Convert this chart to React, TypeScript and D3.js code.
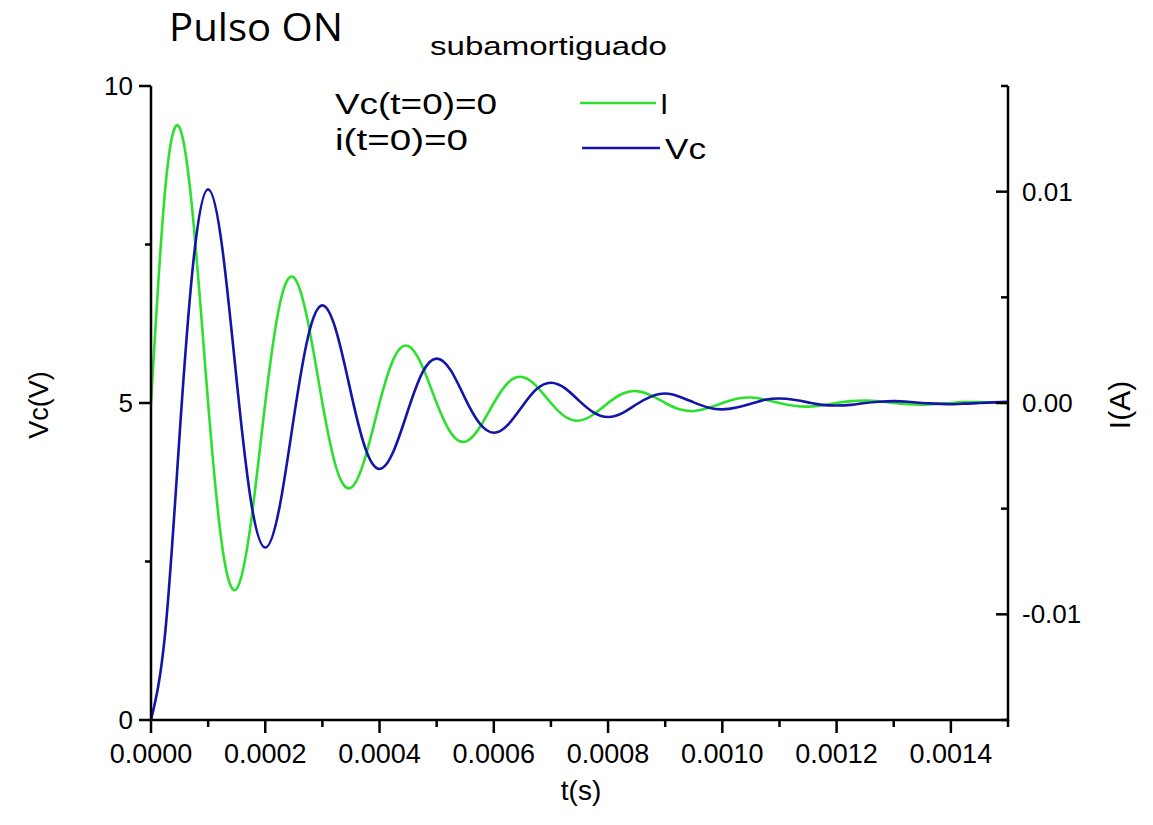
import React from "react";
import * as d3 from "d3";

// time samples (s)
const timeS: number[] = Array.from({ length: 61 }, (_, k) => +(k * 0.000025).toFixed(6));

// Current I (A), green, right axis (mA)
const currentMA: number[] = [
  0, 10.17, 13.03, 8.35, 0, -6.86, -8.79, -5.64,
  0, 4.63, 5.94, 3.8, 0, -3.13, -4.01, -2.57,
  0, 2.11, 2.7, 1.73, 0, -1.42, -1.83, -1.17,
  0, 0.96, 1.23, 0.79, 0, -0.65, -0.83, -0.53,
  0, 0.44, 0.56, 0.36, 0, -0.3, -0.38, -0.24,
  0, 0.2, 0.26, 0.16, 0, -0.13, -0.17, -0.11,
  0, 0.09, 0.12, 0.08, 0, -0.06, -0.08, -0.05,
  0, 0.04, 0.05, 0.03, 0,
];

// Capacitor voltage Vc (V), blue, left axis
const vcV: number[] = [
  0, 1.39, 4.49, 7.3, 8.37, 7.43, 5.35, 3.45,
  2.72, 3.36, 4.77, 6.05, 6.54, 6.11, 5.16, 4.29,
  3.96, 4.25, 4.89, 5.48, 5.7, 5.51, 5.07, 4.68,
  4.53, 4.66, 4.95, 5.22, 5.32, 5.23, 5.03, 4.85,
  4.78, 4.84, 4.98, 5.1, 5.15, 5.1, 5.01, 4.93,
  4.9, 4.93, 4.99, 5.05, 5.07, 5.05, 5.01, 4.97,
  4.96, 4.97, 5.0, 5.02, 5.03, 5.02, 5.0, 4.99,
  4.98, 4.99, 5.0, 5.01, 5.02,
];

const xMajorTicks = [0, 0.0002, 0.0004, 0.0006, 0.0008, 0.001, 0.0012, 0.0014];
const xMajorLabels = ["0.0000", "0.0002", "0.0004", "0.0006", "0.0008", "0.0010", "0.0012", "0.0014"];
const xMinorTicks = [0.0001, 0.0003, 0.0005, 0.0007, 0.0009, 0.0011, 0.0013, 0.0015];
const yLeftMajor = [0, 5, 10];
const yLeftMinor = [2.5, 7.5];
const yRightMajor = [-0.01, 0, 0.01];
const yRightLabels = ["-0.01", "0.00", "0.01"];
const yRightMinor = [-0.015, -0.005, 0.005, 0.015];

const GREEN = "#2ee02e";
const BLUE = "#1414a8";
const FONT = "'Liberation Sans', Arial, sans-serif";

export default function App() {
  const W = 1153, H = 825;
  const x = d3.scaleLinear().domain([0, 0.0015]).range([151, 1008]);
  const yL = d3.scaleLinear().domain([0, 10]).range([720, 86]);
  const yR = d3.scaleLinear().domain([-0.015, 0.015]).range([720, 86]);

  const lineI = d3
    .line<number>()
    .x((_, i) => x(timeS[i]))
    .y((d) => yR(d / 1000))
    .curve(d3.curveNatural);
  const lineV = d3
    .line<number>()
    .x((_, i) => x(timeS[i]))
    .y((d) => yL(d))
    .curve(d3.curveNatural);

  const axisStroke = { stroke: "#000", strokeWidth: 2.5 };

  return (
    <div style={{ position: "absolute", left: 0, top: 0 }}>
      <svg width={W} height={H} style={{ display: "block", background: "#fff" }}>
        <rect width={W} height={H} fill="#fff" />
        {/* data */}
        <path d={lineI(currentMA) || ""} fill="none" stroke={GREEN} strokeWidth={2.6} />
        <path d={lineV(vcV) || ""} fill="none" stroke={BLUE} strokeWidth={2.6} />

        {/* axes lines */}
        <line x1={151} x2={151} y1={86} y2={721} {...axisStroke} />
        <line x1={1008} x2={1008} y1={86} y2={721} {...axisStroke} />
        <line x1={150} x2={1009} y1={720} y2={720} {...axisStroke} />

        {/* bottom ticks */}
        {xMajorTicks.map((t, i) => (
          <g key={"xm" + i}>
            <line x1={x(t)} x2={x(t)} y1={720} y2={733} {...axisStroke} />
            <text x={x(t)} y={763} textAnchor="middle" fontFamily={FONT} fontSize={27}>
              {xMajorLabels[i]}
            </text>
          </g>
        ))}
        {xMinorTicks.map((t, i) => (
          <line key={"xn" + i} x1={x(t)} x2={x(t)} y1={720} y2={727} {...axisStroke} />
        ))}

        {/* left ticks */}
        {yLeftMajor.map((v, i) => (
          <g key={"ylm" + i}>
            <line x1={139} x2={151} y1={yL(v)} y2={yL(v)} {...axisStroke} />
            <text x={133} y={yL(v) + 9} textAnchor="end" fontFamily={FONT} fontSize={26}>
              {String(v)}
            </text>
          </g>
        ))}
        {yLeftMinor.map((v, i) => (
          <line key={"yln" + i} x1={145} x2={151} y1={yL(v)} y2={yL(v)} {...axisStroke} />
        ))}

        {/* right ticks (inward) */}
        {yRightMajor.map((v, i) => (
          <g key={"yrm" + i}>
            <line x1={996} x2={1008} y1={yR(v)} y2={yR(v)} {...axisStroke} />
            <text x={1022} y={yR(v) + 9} textAnchor="start" fontFamily={FONT} fontSize={26}>
              {yRightLabels[i]}
            </text>
          </g>
        ))}
        {yRightMinor.map((v, i) => (
          <line key={"yrn" + i} x1={1001} x2={1008} y1={yR(v)} y2={yR(v)} {...axisStroke} />
        ))}

        {/* axis titles */}
        <text x={581} y={800} textAnchor="middle" fontFamily={FONT} fontSize={28}>
          t(s)
        </text>
        <text
          transform={`translate(48,405) rotate(-90)`}
          textAnchor="middle"
          fontFamily={FONT}
          fontSize={27}
        >
          Vc(V)
        </text>
        <text
          transform={`translate(1130,405) rotate(-90)`}
          textAnchor="middle"
          fontFamily={FONT}
          fontSize={30}
        >
          I(A)
        </text>

        {/* titles */}
        <text
          x={169}
          y={41}
          fontFamily="'Open Sans', sans-serif"
          fontSize={38}
          textLength={174}
          lengthAdjust="spacingAndGlyphs"
        >
          Pulso ON
        </text>
        <text
          x={430}
          y={55}
          fontFamily={FONT}
          fontSize={26}
          textLength={237}
          lengthAdjust="spacingAndGlyphs"
        >
          subamortiguado
        </text>

        {/* annotations */}
        <text x={335} y={114} fontFamily={FONT} fontSize={30} textLength={162} lengthAdjust="spacingAndGlyphs">
          Vc(t=0)=0
        </text>
        <text x={335} y={150} fontFamily={FONT} fontSize={30} textLength={133} lengthAdjust="spacingAndGlyphs">
          i(t=0)=0
        </text>

        {/* legend */}
        <line x1={580} x2={656} y1={103} y2={103} stroke={GREEN} strokeWidth={2.6} />
        <text x={660} y={114} fontFamily={FONT} fontSize={30}>
          I
        </text>
        <line x1={582} x2={660} y1={148} y2={148} stroke={BLUE} strokeWidth={2.6} />
        <text x={665} y={159} fontFamily={FONT} fontSize={30} textLength={41} lengthAdjust="spacingAndGlyphs">
          Vc
        </text>
      </svg>
    </div>
  );
}
